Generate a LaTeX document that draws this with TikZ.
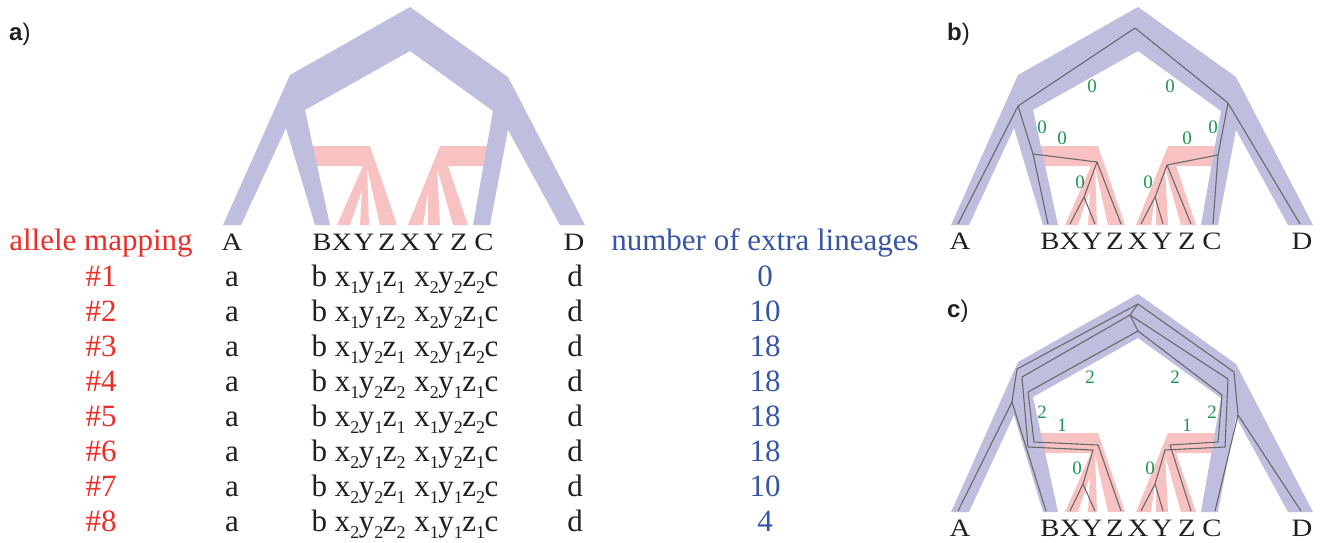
\documentclass[tikz,border=0pt]{standalone}
\usepackage{fontspec}
\setmainfont{Liberation Serif}
\newfontfamily\panelfont{Liberation Sans}
\newfontfamily\tipfont[FakeStretch=1.15]{Liberation Serif}
\definecolor{spc}{RGB}{192,190,222}
\definecolor{gen}{RGB}{248,194,194}
\definecolor{lin}{RGB}{105,105,105}
\definecolor{numgreen}{RGB}{30,150,80}
\definecolor{mapred}{RGB}{236,45,40}
\definecolor{cntblue}{RGB}{55,85,165}
\definecolor{txt}{RGB}{35,31,32}
% subscript index used in the allele table
\newcommand{\lsub}[1]{\raisebox{-7pt}{\fontsize{18}{18}\selectfont #1}\kern-0.5pt}
% species tree (lavender) with the two gene subtrees (pink) inside it
\newcommand{\treebands}{%
  \fill[gen] (311,146) -- (370,146) -- (397,225) -- (380,225) -- (367,167) -- (369,225)
     -- (360,225) -- (362,190) -- (350,225) -- (337,225) -- (363,166) -- (313,166) -- cycle;
  \fill[gen] (440,146) -- (490,146) -- (488,166) -- (448,166) -- (468,225) -- (453,225)
     -- (437,168) -- (440,225) -- (428,225) -- (428,190) -- (423,225) -- (408,225) -- cycle;
  \fill[spc] (223,225) -- (290,75) -- (410,7) -- (508,77) -- (585,225) -- (560,225)
     -- (508,130) -- (490,225) -- (473,225) -- (493,111) -- (410,51) -- (305,110)
     -- (330,225) -- (315,225) -- (286,128) -- (241,225) -- cycle;
}
% leaf labels under a tree, baseline given as argument
\newcommand{\leaflabels}[2]{%
  \node[tiplabel] (#1A) at (232,#2) {A};
  \node[tiplabel] (#1B) at (322,#2) {B};
  \node[tiplabel] (#1X) at (342,#2) {X};
  \node[tiplabel] (#1Y) at (364,#2) {Y};
  \node[tiplabel] (#1Z) at (387,#2) {Z};
  \node[tiplabel] (#1Xb) at (410,#2) {X};
  \node[tiplabel] (#1Yb) at (434,#2) {Y};
  \node[tiplabel] (#1Zb) at (459,#2) {Z};
  \node[tiplabel] (#1C) at (484,#2) {C};
  \node[tiplabel] (#1D) at (574,#2) {D};
}
\begin{document}
\begin{tikzpicture}[x=1pt,y=-1pt,line join=round,
  tiplabel/.style={font=\fontsize{25}{25}\selectfont\tipfont, text=txt, anchor=base, inner sep=0pt},
  tabtext/.style={font=\fontsize{31}{31}\selectfont, anchor=base, inner sep=0pt},
  cnt/.style={font=\fontsize{19}{19}\selectfont, text=numgreen, inner sep=0pt},
  panel/.style={font=\fontsize{24}{24}\selectfont\panelfont, text=txt, anchor=base west, inner sep=0pt},
  lineage/.style={draw=lin, line width=1.1pt}]
\useasboundingbox (0,0) rectangle (1325,542);

% ---------------- panel a ----------------
\node[panel] (pa) at (9,40) {\textbf{a})};
\treebands
\leaflabels{a}{250}
\node[tabtext, text=mapred] (hmap) at (101,250) {allele mapping};
\node[tabtext, text=cntblue] (hcnt) at (765,250) {number of extra lineages};

\foreach \xa/\ya/\za/\xb/\yb/\zb/\ex [count=\i] in
  {1/1/1/2/2/2/0, 1/1/2/2/2/1/10, 1/2/1/2/1/2/18, 1/2/2/2/1/1/18,
   2/1/1/1/2/2/18, 2/1/2/1/2/1/18, 2/2/1/1/1/2/10, 2/2/2/1/1/1/4}{
  \pgfmathsetmacro{\rowy}{286+35.14*(\i-1)}
  \node[tabtext, text=mapred] (map\i) at (101,\rowy) {\#\i};
  \node[tabtext, text=txt] (ra\i) at (232,\rowy) {a};
  \node[tabtext, text=txt] (rm\i) at (405,\rowy)
    {b x\lsub{\xa}y\lsub{\ya}z\lsub{\za}\hspace{1.5pt} x\lsub{\xb}y\lsub{\yb}z\lsub{\zb}c};
  \node[tabtext, text=txt] (rd\i) at (575,\rowy) {d};
  \node[tabtext, text=cntblue] (ex\i) at (765,\rowy) {\ex};
}

% ---------------- panel b ----------------
\node[panel] (pb) at (947,40) {\textbf{b})};
\begin{scope}[shift={(728,0)}]
  \treebands
  \leaflabels{b}{249}
  \coordinate (bR) at (407,28);
  \coordinate (bL) at (290,106);
  \coordinate (bRt) at (500,103);
  \coordinate (bfA) at (230,224);
  \coordinate (bfD) at (572,224);
  \coordinate (bBd) at (305,154);
  \coordinate (bfB) at (320,224);
  \coordinate (bCd) at (490,155);
  \coordinate (bfC) at (485,224);
  \coordinate (bP1) at (369,162);
  \coordinate (bQ1) at (356,197);
  \coordinate (bfX1) at (342,224);
  \coordinate (bfY1) at (367,224);
  \coordinate (bfZ1) at (393,224);
  \coordinate (bP2) at (439,165);
  \coordinate (bQ2) at (427,197);
  \coordinate (bfX2) at (413,224);
  \coordinate (bfY2) at (435,224);
  \coordinate (bfZ2) at (463,224);
  \draw[lineage] (bL) -- (bR) -- (bRt);
  \draw[lineage] (bfA) -- (bL) -- (bBd) -- (bfB);
  \draw[lineage] (bBd) -- (bP1) -- (bfZ1);
  \draw[lineage] (bP1) -- (bQ1) -- (bfX1);
  \draw[lineage] (bQ1) -- (bfY1);
  \draw[lineage] (bfD) -- (bRt) -- (bCd) -- (bfC);
  \draw[lineage] (bCd) -- (bP2) -- (bfZ2);
  \draw[lineage] (bP2) -- (bQ2) -- (bfX2);
  \draw[lineage] (bQ2) -- (bfY2);
  \node[cnt] (b1) at (364,86) {0};
  \node[cnt] (b2) at (442,86) {0};
  \node[cnt] (b3) at (314,127) {0};
  \node[cnt] (b4) at (334,138) {0};
  \node[cnt] (b5) at (485,127) {0};
  \node[cnt] (b6) at (459,138) {0};
  \node[cnt] (b7) at (352,182) {0};
  \node[cnt] (b8) at (420,182) {0};
\end{scope}

% ---------------- panel c ----------------
\node[panel] (pc) at (947,317) {\textbf{c})};
\begin{scope}[shift={(728,287)}]
  \treebands
  \leaflabels{c}{249}
  \coordinate (cR) at (410,17);
  \coordinate (cR2) at (402,28);
  \coordinate (cR3) at (410,44);
  \coordinate (cLo) at (289,82);
  \coordinate (cLm) at (294,90);
  \coordinate (cLi) at (300,105);
  \coordinate (cRo) at (506,85);
  \coordinate (cRm) at (500,92);
  \coordinate (cRi) at (494,108);
  \coordinate (cAB) at (284,115);
  \coordinate (cfA) at (230,224);
  \coordinate (cfB) at (318,224);
  \coordinate (cCD) at (510,128);
  \coordinate (cfD) at (573,224);
  \coordinate (cfC) at (487,224);
  \coordinate (cLm2) at (300,160);
  \coordinate (cLi2) at (306,155);
  \coordinate (cP1a) at (365,163);
  \coordinate (cP1b) at (370,158);
  \coordinate (cQ1) at (355,197);
  \coordinate (cfX1) at (342,224);
  \coordinate (cfY1) at (367,224);
  \coordinate (cfZ1) at (393,224);
  \coordinate (cRm2) at (497,160);
  \coordinate (cRi2) at (490,155);
  \coordinate (cP2a) at (437,163);
  \coordinate (cP2b) at (442,158);
  \coordinate (cQ2) at (427,197);
  \coordinate (cfX2) at (413,224);
  \coordinate (cfY2) at (435,224);
  \coordinate (cfZ2) at (463,224);
  \draw[lineage] (cLo) -- (cR) -- (cRo);
  \draw[lineage] (cLm) -- (cR2) -- (cR);
  \draw[lineage] (cRm) -- (cR2);
  \draw[lineage] (cLi) -- (cR3) -- (cRi);
  \draw[lineage] (cR3) -- (cR2);
  \draw[lineage] (cfA) -- (cAB) -- (cLo);
  \draw[lineage] (cAB) -- (cfB);
  \draw[lineage] (cfD) -- (cCD) -- (cRo);
  \draw[lineage] (cCD) -- (cfC);
  \draw[lineage] (cLm) -- (cLm2) -- (cP1a) -- (cQ1) -- (cfX1);
  \draw[lineage] (cQ1) -- (cfY1);
  \draw[lineage] (cLi) -- (cLi2) -- (cP1b) -- (cfZ1);
  \draw[lineage] (cRm) -- (cRm2) -- (cP2a) -- (cQ2) -- (cfX2);
  \draw[lineage] (cQ2) -- (cfY2);
  \draw[lineage] (cRi) -- (cRi2) -- (cP2b) -- (cfZ2);
  \node[cnt] (c1) at (362,90) {2};
  \node[cnt] (c2) at (447,90) {2};
  \node[cnt] (c3) at (314,125) {2};
  \node[cnt] (c4) at (334,138) {1};
  \node[cnt] (c5) at (484,125) {2};
  \node[cnt] (c6) at (459,138) {1};
  \node[cnt] (c7) at (349,181) {0};
  \node[cnt] (c8) at (422,181) {0};
\end{scope}
\end{tikzpicture}
\end{document}
